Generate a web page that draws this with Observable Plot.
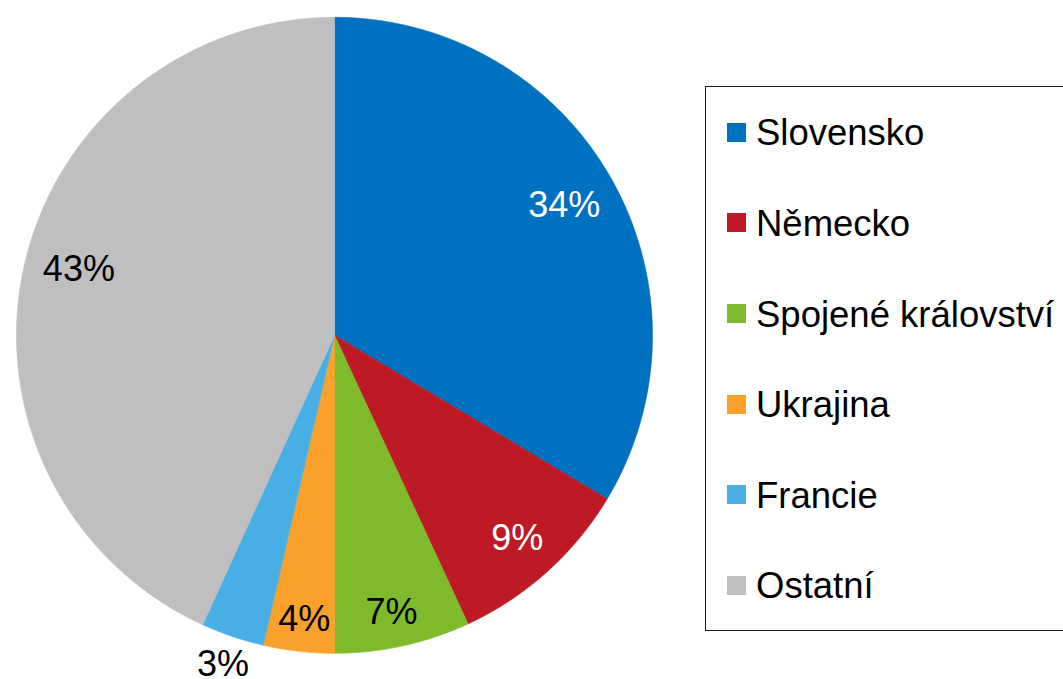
<!DOCTYPE html>
<html>
<head>
<meta charset="utf-8">
<script src="https://cdn.jsdelivr.net/npm/d3@7"></script>
<script src="https://cdn.jsdelivr.net/npm/@observablehq/plot@0.6"></script>
<style>
  html, body { margin: 0; padding: 0; background: #fff; }
  #wrap { position: relative; width: 1063px; height: 679px; overflow: hidden; font-family: "Liberation Sans", Arial, sans-serif; }
  #legend-box { position: absolute; left: 705px; top: 86px; width: 420px; height: 545px; border: 1.5px solid #1a1a1a; box-sizing: border-box; }
  .sw { position: absolute; width: 19px; height: 19px; }
  .lt { position: absolute; font-size: 36.5px; line-height: normal; color: #000; white-space: nowrap; }
</style>
</head>
<body>
<div id="wrap"></div>
<script>
// ---- data ----
const categories = ["Slovensko", "Německo", "Spojené království", "Ukrajina", "Francie", "Ostatní"];
const values = [33.6, 9.5, 6.9, 3.6, 3.2, 43.2];
const labels = ["34%", "9%", "7%", "4%", "3%", "43%"];
const colors = ["#0070C0", "#BE1A25", "#7FBA2C", "#F9A12A", "#48AEE6", "#BFBFBF"];
const labelColors = ["white", "white", "black", "black", "black", "black"];

// ---- layout ----
const labelRadius = [0.83, 0.86, 0.89, 0.9, 1.093, 0.83];
const labelAngleShift = [0, 0, 0.8, -0.4, 0, 2.2]; // degrees
const W = 1063, H = 679;
const cx = 334, cy = 334.8, R = 318;

const arcs = d3.pie().sort(null).value(d => d)(values);

const slicePts = [];
arcs.forEach((a, i) => {
  const cat = categories[i];
  slicePts.push({cat, x: 0, y: 0});
  const n = Math.max(2, Math.ceil((a.endAngle - a.startAngle) / (Math.PI / 720)));
  for (let k = 0; k <= n; k++) {
    const t = a.startAngle + (a.endAngle - a.startAngle) * k / n;
    slicePts.push({cat, x: Math.sin(t), y: Math.cos(t)});
  }
  slicePts.push({cat, x: 0, y: 0});
});

const labelData = arcs.map((a, i) => {
  const m = (a.startAngle + a.endAngle) / 2 + labelAngleShift[i] * Math.PI / 180;
  return {text: labels[i], color: labelColors[i], x: labelRadius[i] * Math.sin(m), y: labelRadius[i] * Math.cos(m)};
});

const font = '"Liberation Sans", Arial, sans-serif';

const chart = Plot.plot({
  width: W,
  height: H,
  margin: 0,
  x: {domain: [-cx / R, (W - cx) / R], axis: null},
  y: {domain: [-(H - cy) / R, cy / R], axis: null},
  color: {domain: categories, range: colors},
  style: {fontFamily: font, background: "white"},
  marks: [
    Plot.line(slicePts, {x: "x", y: "y", z: "cat", fill: "cat", stroke: "cat", strokeWidth: 0.6, curve: "linear"}),
    Plot.text(labelData, {filter: d => d.color === "white", x: "x", y: "y", text: "text", fill: "white", fontSize: 36, textAnchor: "middle", lineAnchor: "middle"}),
    Plot.text(labelData, {filter: d => d.color !== "white", x: "x", y: "y", text: "text", fill: "black", fontSize: 36, textAnchor: "middle", lineAnchor: "middle"})
  ]
});

const wrap = document.getElementById("wrap");
wrap.appendChild(chart);

// legend
const box = document.createElement("div");
box.id = "legend-box";
wrap.appendChild(box);
const fs = 36.5;
categories.forEach((c, i) => {
  const mid = 132.3 + 90.6 * i;
  const sw = document.createElement("div");
  sw.className = "sw";
  sw.style.left = "727px";
  sw.style.top = (mid - 9.5) + "px";
  sw.style.background = colors[i];
  wrap.appendChild(sw);
  const t = document.createElement("div");
  t.className = "lt";
  t.textContent = c;
  t.style.left = "756px";
  const baseline = mid + 0.358 * fs;
  t.style.top = (baseline - 0.905 * fs) + "px";
  wrap.appendChild(t);
});
</script>
</body>
</html>
